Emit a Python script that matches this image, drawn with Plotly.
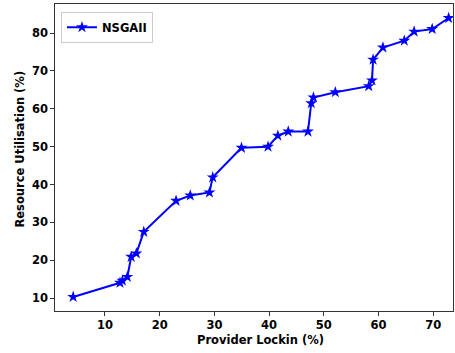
import plotly.graph_objects as go

# NSGAII trade-off front: provider lock-in vs. resource utilisation
provider_lockin = [4.2, 12.75, 13.2, 14.1, 14.8, 15.75, 17.1, 23.0, 25.6, 29.1, 29.7,
                   34.95, 39.8, 41.6, 43.5, 47.1, 47.7, 48.1, 52.1, 58.2, 58.8,
                   59.0, 60.8, 64.7, 66.5, 69.8, 72.8]
resource_util = [10.3, 14.05, 14.6, 15.6, 20.9, 21.8, 27.5, 35.7, 37.1, 37.9, 41.9,
                 49.7, 50.0, 52.9, 54.0, 54.0, 61.5, 63.0, 64.4, 66.0, 67.5,
                 73.0, 76.2, 78.0, 80.4, 81.1, 84.0]

x_ticks = [10, 20, 30, 40, 50, 60, 70]
y_ticks = [10, 20, 30, 40, 50, 60, 70, 80]

x_label = "Provider Lockin (%)"
y_label = "Resource Utilisation (%)"

font_family = "DejaVu Sans"
font_size = 11.5

fig = go.Figure()
fig.add_trace(go.Scatter(
    x=provider_lockin,
    y=resource_util,
    mode="lines+markers",
    name="<b>NSGAII</b>",
    line=dict(color="#0000ff", width=2),
    marker=dict(symbol="star", size=9, color="#0000ff"),
))

axis_common = dict(
    showline=True,
    linecolor="#333333",
    linewidth=1.2,
    mirror=True,
    ticks="outside",
    ticklen=3.5,
    tickwidth=1,
    tickcolor="#333333",
    showgrid=False,
    zeroline=False,
    tickfont=dict(family=font_family, size=font_size, color="#000000", weight="bold"),
)

title_font = dict(family=font_family, size=font_size, color="#000000")

fig.update_layout(
    width=455,
    height=353,
    margin=dict(l=55, r=2, t=4, b=42),
    paper_bgcolor="white",
    plot_bgcolor="white",
    showlegend=True,
    legend=dict(
        x=0.015, y=0.975, xanchor="left", yanchor="top",
        bordercolor="#cccccc", borderwidth=1,
        bgcolor="rgba(255,255,255,0.8)",
        font=dict(family=font_family, size=font_size, color="#000000"),
    ),
    xaxis=dict(range=[0.88, 73.6], tickvals=x_ticks, **axis_common),
    yaxis=dict(range=[6.58, 87.7], tickvals=y_ticks, **axis_common),
    annotations=[
        dict(text=f"<b>{x_label}</b>", xref="paper", yref="paper",
             x=0.516, y=-0.0945, xanchor="center", yanchor="middle",
             showarrow=False, font=title_font),
        dict(text=f"<b>{y_label}</b>", xref="paper", yref="paper",
             x=-0.088, y=0.529, xanchor="center", yanchor="middle",
             textangle=-90, showarrow=False, font=title_font),
    ],
)

fig.write_html("out.html")
